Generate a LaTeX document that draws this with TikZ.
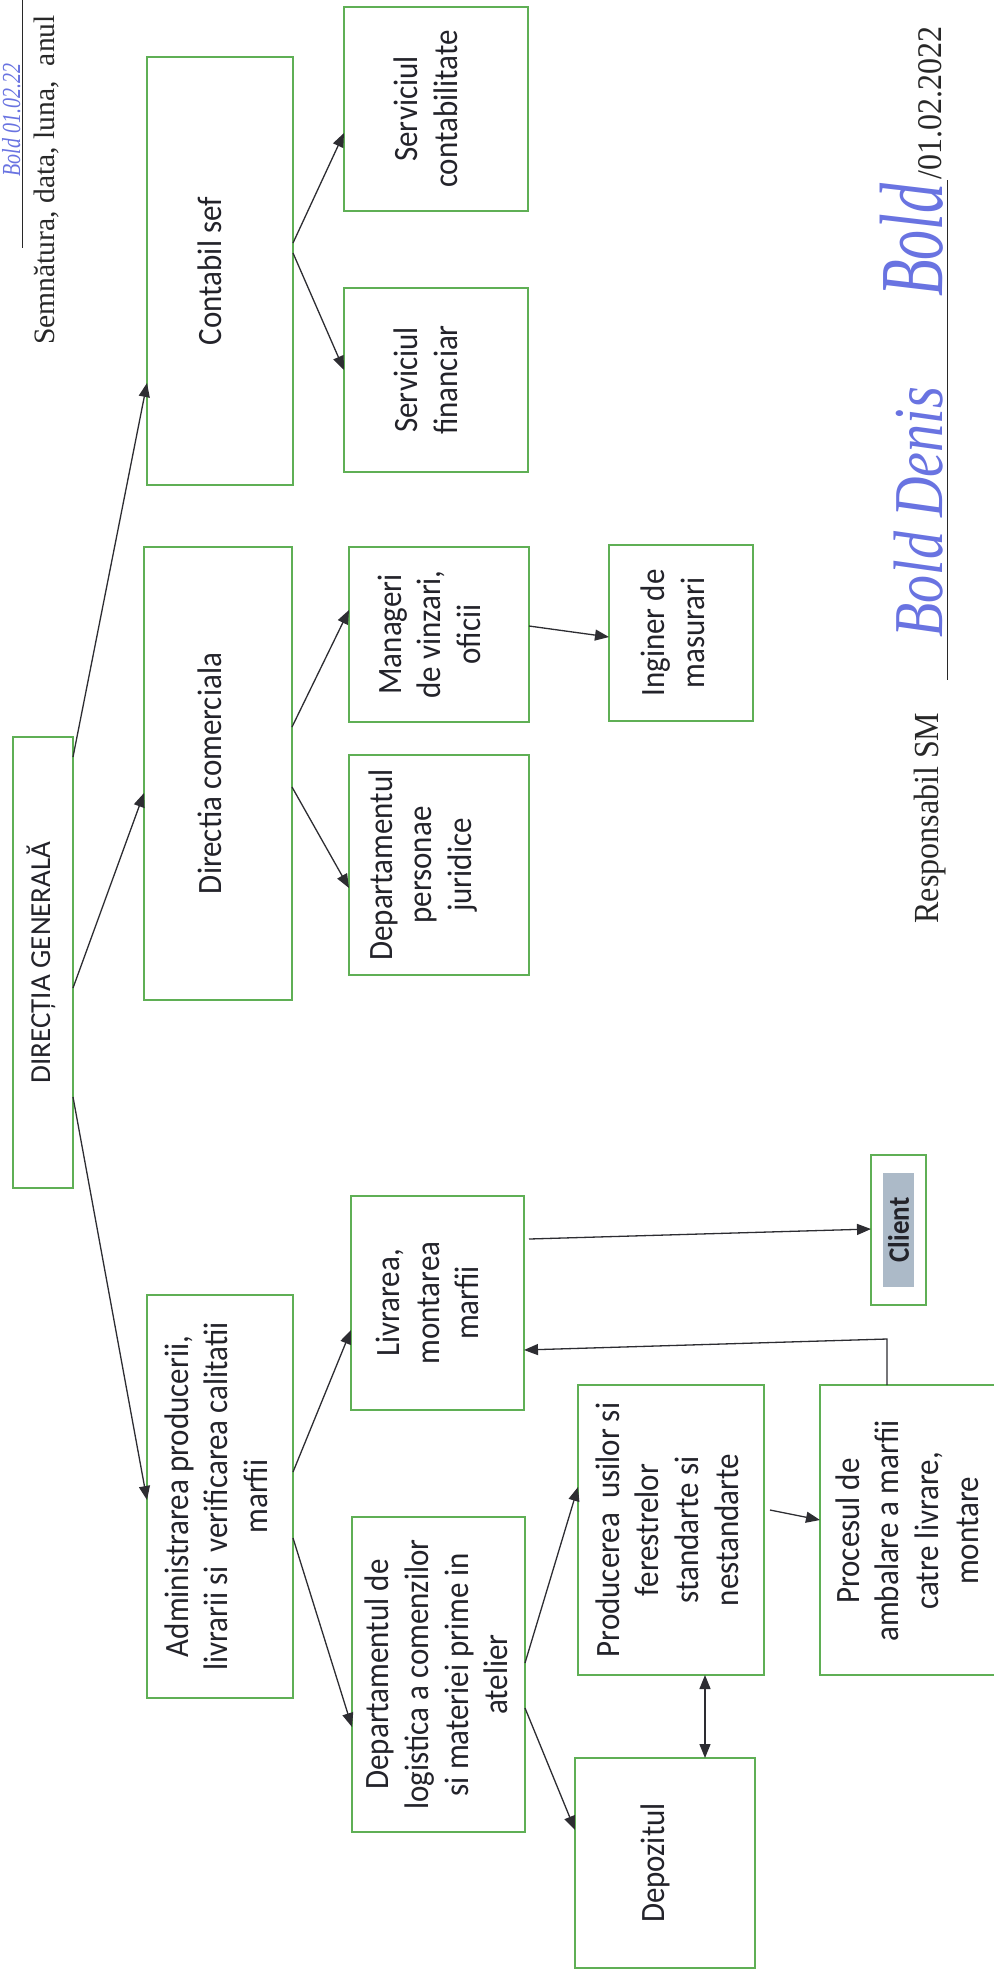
\documentclass[tikz,border=0pt]{standalone}
\usepackage{fontspec}
\setmainfont{Carlito}
\newfontfamily\tnr{Liberation Serif}
\usetikzlibrary{arrows.meta,calc}
\definecolor{bgreen}{RGB}{95,175,85}
\definecolor{txtc}{RGB}{35,35,42}
\definecolor{arrc}{RGB}{45,45,50}
\definecolor{clientfill}{RGB}{172,186,200}
\definecolor{sigblue}{RGB}{105,115,225}
\definecolor{printc}{RGB}{40,40,40}
\begin{document}
\begin{tikzpicture}[x=0.5pt,y=-0.5pt,
  box/.style={draw=bgreen, line width=1.1pt, inner sep=0pt, outer sep=0pt},
  lblbase/.style={rotate=90, align=center, text=txtc, inner sep=0pt,
    font=\fontsize{14.5}{18}\selectfont},
  lbl/.style={lblbase, yscale=1.1, font=\fontsize{15.5}{18}\selectfont},
  arr/.style={draw=arrc, line width=0.65pt, -{Triangle[length=7pt,width=5.5pt]}},
  darr/.style={draw=arrc, line width=0.65pt, {Triangle[length=7pt,width=5.5pt]}-{Triangle[length=7pt,width=5.5pt]}},
  prn/.style={rotate=90, text=printc, inner sep=0pt},
  sig/.style={rotate=90, text=sigblue, inner sep=0pt}]
\useasboundingbox[fill=white] (0,0) rectangle (994,1971);

% boxes
\node[box, minimum width=30pt, minimum height=225.5pt] (DG) at (43,962.5) {};
\node[box, minimum width=73pt, minimum height=214pt] (CS) at (220,271) {};
\node[box, minimum width=92pt, minimum height=102pt] (SC) at (436,109) {};
\node[box, minimum width=92pt, minimum height=92pt] (SF) at (436,380) {};
\node[box, minimum width=74pt, minimum height=226.5pt] (DC) at (218,773.5) {};
\node[box, minimum width=90pt, minimum height=87.5pt] (MV) at (439,634.5) {};
\node[box, minimum width=72pt, minimum height=88pt] (IM) at (681,633) {};
\node[box, minimum width=90pt, minimum height=110pt] (DPJ) at (439,865) {};
\node[box, minimum width=73pt, minimum height=201.5pt] (AD) at (220,1496.5) {};
\node[box, minimum width=86.5pt, minimum height=107pt] (LV) at (437.5,1303) {};
\node[box, minimum width=27.5pt, minimum height=75pt] (CL) at (898.5,1230) {};
\node[box, minimum width=86.5pt, minimum height=157.5pt] (DL) at (438.5,1674.5) {};
\node[box, minimum width=93pt, minimum height=145pt] (PR) at (671,1530) {};
\node[box, minimum width=95pt, minimum height=145pt] (PC) at (915,1530) {};
\node[box, minimum width=90pt, minimum height=105pt] (DZ) at (665,1863) {};
\node[fill=clientfill, inner sep=0pt, minimum width=15.5pt, minimum height=57pt] (CLf) at (898.5,1230) {};

% labels
\node[lblbase] (DGt) at ([xshift=-1pt]DG.center) {DIRECȚIA GENERALĂ};
\node[lbl] (CSt) at ([xshift=-5pt]CS.center) {Contabil sef};
\node[lbl] (SCt) at ([xshift=-5pt]SC.center) {Serviciul\\contabilitate};
\node[lbl] (SFt) at ([xshift=-5pt]SF.center) {Serviciul\\financiar};
\node[lbl] (DCt) at ([xshift=-4pt]DC.center) {Directia comerciala};
\node[lbl] (MVt) at ([xshift=-5pt]MV.center) {Manageri\\de vinzari,\\oficii};
\node[lbl] (IMt) at ([xshift=-4pt]IM.center) {Inginer de\\masurari};
\node[lbl] (DPJt) at ([xshift=-8pt]DPJ.center) {Departamentul\\personae\\juridice};
\node[lbl] (ADt) at ([xshift=-2pt]AD.center) {Administrarea producerii,\\livrarii si~ verificarea calitatii\\marfii};
\node[lbl] (LVt) at ([xshift=-5pt]LV.center) {Livrarea,\\montarea\\marfii};
\node[lblbase, yscale=1.1, font=\bfseries\fontsize{13.5}{16}\selectfont] (CLt) at (CL) {Client};
\node[lbl] (DLt) at ([xshift=-1pt]DL.center) {Departamentul de\\logistica a comenzilor\\si materiei prime in\\atelier};
\node[lbl] (PRt) at ([xshift=-2pt]PR.center) {Producerea~ usilor si\\ferestrelor\\standarte si\\nestandarte};
\node[lbl] (PCt) at (907,1531) {Procesul de\\ambalare a marfii\\catre livrare,\\montare};
\node[lbl] (DZt) at ([xshift=-5pt]DZ.center) {Depozitul};

% connectors
\draw[arr] (DG.east |- 0,757) -- (CS.west |- 0,383);
\draw[arr] (DG.east |- 0,988) -- (DC.west |- 0,793);
\draw[arr] (DG.east |- 0,1097) -- (AD.west |- 0,1500);
\draw[arr] (CS.east |- 0,243) -- (SC.west |- 0,133);
\draw[arr] (CS.east |- 0,253) -- (SF.west |- 0,370);
\draw[arr] (DC.east |- 0,727) -- (MV.west |- 0,610);
\draw[arr] (DC.east |- 0,787) -- (DPJ.west |- 0,888);
\draw[arr] (MV.east |- 0,626) -- (IM.west |- 0,637);
\draw[arr] (AD.east |- 0,1472) -- (LV.west |- 0,1330);
\draw[arr] (AD.east |- 0,1538) -- (DL.west |- 0,1727);
\draw[arr] ([xshift=2.5pt]LV.east |- 0,1239) -- (CL.west |- 0,1229);
\coordinate (bend) at (887,1339);
\draw[arr] (PC.north -| bend) -- (bend) -- (LV.east |- 0,1350);
\draw[arr] (DL.east |- 0,1663) -- (PR.west |- 0,1487);
\draw[arr] (DL.east |- 0,1708) -- (DZ.west |- 0,1830);
\draw[darr] (PR.south -| 705,0) -- (DZ.north -| 705,0);
\draw[arr] ([xshift=3pt]PR.east |- 0,1510) -- (PC.west |- 0,1520);

% printed texts and signatures
\node[prn, font=\tnr\fontsize{14.8}{16}\selectfont] (semn) at (47,180) {Semnătura, data, luna,~ anul};
\coordinate (ua) at (22,0);
\coordinate (ub) at (22,248);
\draw[printc, line width=0.5pt] (ua) -- (ub);
\node[sig, anchor=base, yscale=1.3, font=\tnr\itshape\fontsize{10}{10}\selectfont] (s0) at (20,120) {Bold 01.02.22};

\node[prn, yscale=1.1, font=\tnr\fontsize{16}{17}\selectfont] (resp) at (930,818) {Responsabil SM};
\node[prn, yscale=1.08, font=\tnr\fontsize{16}{17}\selectfont] (date) at (930,103) {/01.02.2022};
\coordinate (uc) at (947,180);
\coordinate (ud) at (947,680);
\draw[printc, line width=0.5pt] (uc) -- (ud);
\node[sig, anchor=base, yscale=1.25, font=\tnr\itshape\fontsize{28}{28}\selectfont] (s1) at (942,512) {Bold Denis};
\node[sig, anchor=base, yscale=1.5, font=\tnr\itshape\fontsize{30}{30}\selectfont] (s2) at (942,240) {Bold};
\end{tikzpicture}
\end{document}
